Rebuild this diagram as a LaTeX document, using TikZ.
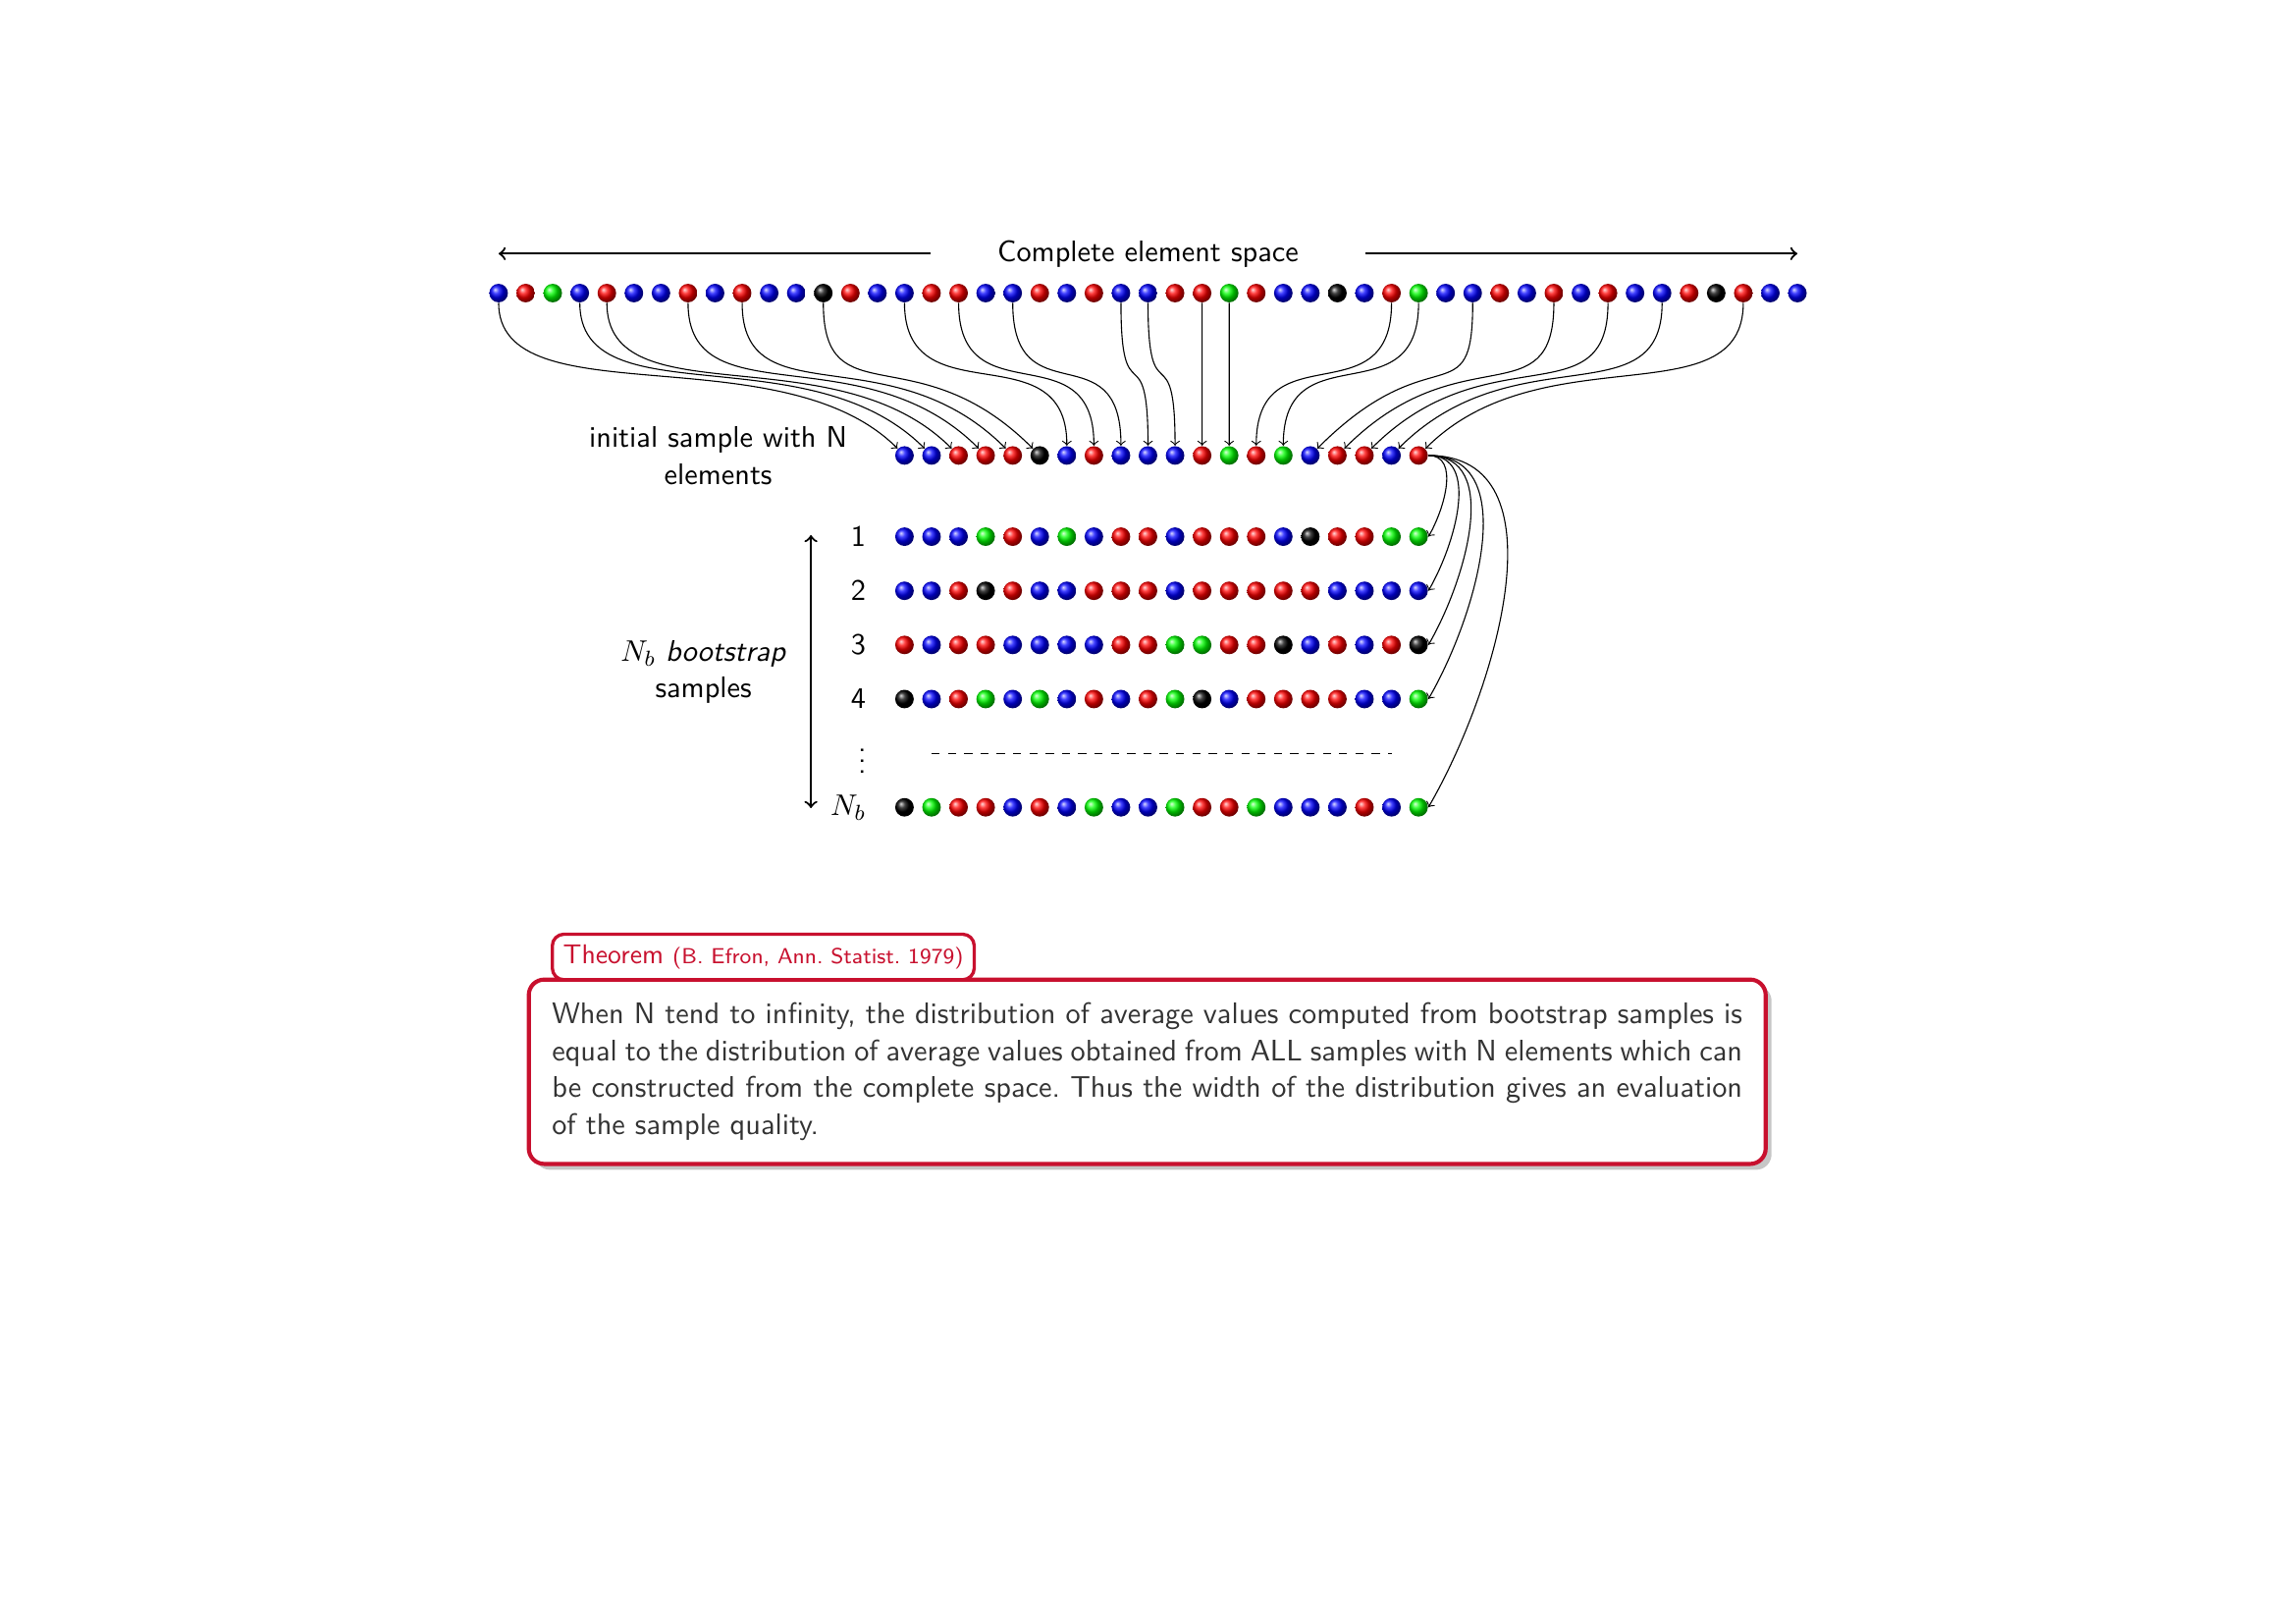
\documentclass[tikz,border=0pt]{standalone}
\usepackage{amsmath}
\usepackage{amssymb}
\usetikzlibrary{positioning,shadows}

\definecolor{thmred}{RGB}{200,16,46}

\tikzset{
  bead/.style={circle, shading=ball, ball color=#1, minimum size=2.4mm, inner sep=0pt},
  pickarrow/.style={->, thin},
  copyarrow/.style={->, thin},
  rowlabel/.style={left=2.5mm of #1},
  thmbox/.style={draw=thmred, line width=1.5pt, rounded corners=2mm, fill=white,
    drop shadow={opacity=0.45}, text width=15.4cm, inner sep=0.3cm, align=justify, text=black!80},
  thmtitle/.style={draw=thmred, line width=1.2pt, rounded corners=1.5mm, fill=white,
    text=thmred, inner xsep=4pt, inner ysep=3.9pt, font=\sffamily\fontsize{10}{12}\selectfont}
}

\begin{document}
\frenchspacing
\begin{tikzpicture}[font=\sffamily\fontsize{10.95}{13.6}\selectfont]
        \useasboundingbox (-6.45,3.79) rectangle (23.25,-17.21);

        % complete element space
        \foreach \c [count=\i from 0] in {blue,red,green,blue,red,blue,blue,red,blue,red,blue,blue,black,red,blue,blue,red,red,blue,blue,red,blue,red,blue,blue,red,red,green,red,blue,blue,black,blue,red,green,blue,blue,red,blue,red,blue,red,blue,blue,red,black,red,blue,blue}
            \node[bead=\c] (t-\i) at (0.35*\i,0) {};

        % label and arrows
        \node[minimum width=5.6cm, inner sep=0pt] (space) at (8.4,0.51) {Complete element space};
        \draw[->][thick] (space.west) -- (space.west -| t-0);
        \draw[->][thick] (space.east) -- (space.east -| t-48);

        % initial sample
        \foreach \c [count=\j from 0] in {blue,blue,red,red,red,black,blue,red,blue,blue,blue,red,green,red,green,blue,red,red,blue,red}
            \node[bead=\c] (s-\j) at (5.25+0.35*\j,-2.1) {};
        \node[align=center] (init) at (2.84,-2.1) {initial sample with N\\elements};

        % picks
        \foreach \s/\j/\dx/\anc in {0/0/-1.5/north west, 3/1/-1.5/north west, 4/2/-1.5/north west,
                7/3/-1.5/north west, 9/4/-1.5/north west, 12/5/-1.5/north west, 15/6/0/north,
                17/7/0/north, 19/8/0/north, 23/9/0/north, 24/10/0/north, 26/11/0/north,
                27/12/0/north, 33/13/0/north, 34/14/0/north, 36/15/1.5/north east,
                39/16/1.5/north east, 41/17/1.5/north east, 43/18/1.5/north east, 46/19/1.5/north east}
            \draw[pickarrow] (t-\s.south) .. controls +(0,-1.5) and +(\dx,1.5) .. (s-\j.\anc);

        % bootstrap samples
        \foreach \k/\y/\lab/\cols in {
                1/-3.15/1/{blue,blue,blue,green,red,blue,green,blue,red,red,blue,red,red,red,blue,black,red,red,green,green},
                2/-3.85/2/{blue,blue,red,black,red,blue,blue,red,red,red,blue,red,red,red,red,red,blue,blue,blue,blue},
                3/-4.55/3/{red,blue,red,red,blue,blue,blue,blue,red,red,green,green,red,red,black,blue,red,blue,red,black},
                4/-5.25/4/{black,blue,red,green,blue,green,blue,red,blue,red,green,black,blue,red,red,red,red,blue,blue,green},
                6/-6.65/$N_b$/{black,green,red,red,blue,red,blue,green,blue,blue,green,red,red,green,blue,blue,blue,red,blue,green}} {
            \foreach \c [count=\j from 0] in \cols
                \node[bead=\c] (r-\k-\j) at (5.25+0.35*\j,\y) {};
            \node[rowlabel=r-\k-0] (lab-\k) {\lab};
            \draw[copyarrow] (s-19.east) to[out=0,in=60] (r-\k-19.east);
        }

        % skipped samples
        \coordinate (d-1) at (5.6,-5.95);
        \coordinate (d-18) at (11.55,-5.95);
        \draw[dashed] (d-1) -- (d-18);
        \node[anchor=east] (lab-5) at (4.88,-5.95) {$\vdots$};

        % number of samples
        \coordinate (nb-top) at (4.04,-3.13);
        \coordinate (nb-bot) at (4.04,-6.66);
        \draw[<->][thick] (nb-top) -- (nb-bot);
        \node[align=center] (nb) at (2.65,-4.9) {$N_b$ \textit{bootstrap}\\samples};

        % theorem
        \node[thmbox] (thm) at (8.39,-10.07) {When N tend to infinity, the distribution of average values computed from bootstrap samples is equal to the distribution of average values obtained from ALL samples with N elements which can be constructed from the complete space. Thus the width of the distribution gives an evaluation of the sample quality.};
        \node[thmtitle, anchor=south west] (thm-title) at ([xshift=0.31cm, yshift=-1.4pt]thm.north west) {Theorem {\fontsize{8}{9.5}\selectfont(B. Efron, Ann. Statist. 1979)}};
    \end{tikzpicture}
\end{document}
